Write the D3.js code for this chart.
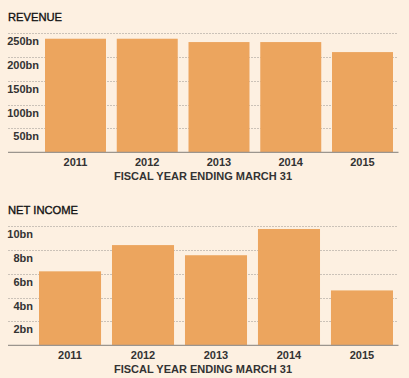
<!DOCTYPE html>
<html><head><meta charset="utf-8">
<script src="https://cdn.jsdelivr.net/npm/d3@7"></script>
<style>
html,body{margin:0;padding:0;background:#fdf0e1;}
svg{display:block;font-family:"Liberation Sans",Arial,sans-serif;}
</style></head>
<body>
<svg id="chart" width="409" height="378"></svg>
<script>
const years = ["2011","2012","2013","2014","2015"];
const revenue = [238, 238, 231, 231, 210];
const netIncome = [6.2, 8.4, 7.55, 9.75, 4.6];
const revenueTicks = [50, 100, 150, 200, 250];
const netIncomeTicks = [2, 4, 6, 8, 10];
const xAxisTitle = "FISCAL YEAR ENDING MARCH 31";

const svg = d3.select("#chart");
const barColor = "#eca55e";

function panel(offsetY, title, values, ticks, maxV, plotLeft) {
  const g = svg.append("g").attr("transform", `translate(0,${offsetY})`);
  const top = 33, base = 152.3, left = 8, right = 397.5;
  const y = d3.scaleLinear().domain([0, maxV]).range([base, top]);
  const x = d3.scaleBand().domain(years).range([plotLeft, 393]).paddingInner(0.15).paddingOuter(0);

  g.append("text").attr("x", 8).attr("y", 21).attr("font-size", 11.2)
    .attr("fill", "#111").attr("stroke", "#111").attr("stroke-width", 0.35).text(title);

  g.selectAll(".grid").data(ticks).join("line")
    .attr("x1", left).attr("x2", right)
    .attr("y1", d => Math.round(y(d)) + 0.5).attr("y2", d => Math.round(y(d)) + 0.5)
    .attr("stroke", "#cbc2b8").attr("stroke-width", 1).attr("stroke-dasharray", "2,1");

  g.selectAll(".tl").data(ticks).join("text")
    .attr("x", plotLeft - 6).attr("y", d => y(d) + 12)
    .attr("text-anchor", "end").attr("font-size", 11).attr("font-weight", "bold")
    .attr("fill", "#333").text(d => d + "bn");

  g.selectAll(".bar").data(values).join("rect")
    .attr("x", (d, i) => x(years[i])).attr("width", x.bandwidth())
    .attr("y", d => y(d)).attr("height", d => base - y(d))
    .attr("fill", barColor);

  g.append("line").attr("x1", left).attr("x2", 398.5)
    .attr("y1", base).attr("y2", base).attr("stroke", "#9b958e").attr("stroke-width", 1.2);

  g.selectAll(".xl").data(years).join("text")
    .attr("x", d => x(d) + x.bandwidth() / 2).attr("y", 165.5)
    .attr("text-anchor", "middle").attr("font-size", 11).attr("font-weight", "bold")
    .attr("fill", "#333").text(d => d);

  g.append("text").attr("x", 203).attr("y", 179.5).attr("text-anchor", "middle")
    .attr("font-size", 11).attr("font-weight", "bold").attr("fill", "#333").text(xAxisTitle);
}

panel(0, "REVENUE", revenue, revenueTicks, 250, 45);
panel(193, "NET INCOME", netIncome, netIncomeTicks, 10, 39);
</script>
</body></html>
